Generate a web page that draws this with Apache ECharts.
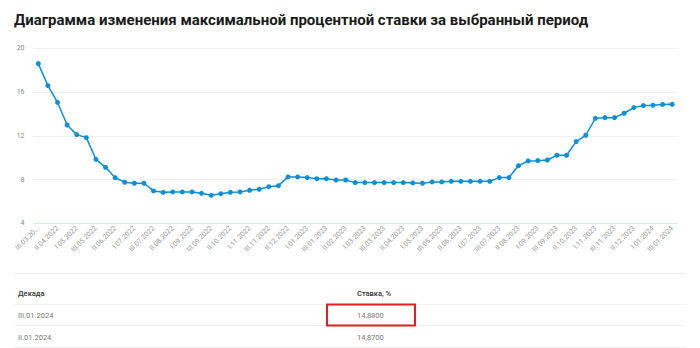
<!DOCTYPE html>
<html>
<head>
<meta charset="utf-8">
<script src="https://cdn.jsdelivr.net/npm/echarts@6/dist/echarts.min.js"></script>
<style>
html,body{margin:0;padding:0;background:#fff;}
#c{width:700px;height:348px;}
</style>
</head>
<body>
<div id="c"></div>
<script>
var titleText = 'Диаграмма изменения максимальной процентной ставки за выбранный период';
var categories = [
 'III.03.2022',
 'I.04.2022','II.04.2022','III.04.2022',
 'I.05.2022','II.05.2022','III.05.2022',
 'I.06.2022','II.06.2022','III.06.2022',
 'I.07.2022','II.07.2022','III.07.2022',
 'I.08.2022','II.08.2022','III.08.2022',
 'I.09.2022','II.09.2022','III.09.2022',
 'I.10.2022','II.10.2022','III.10.2022',
 'I.11.2022','II.11.2022','III.11.2022',
 'I.12.2022','II.12.2022','III.12.2022',
 'I.01.2023','II.01.2023','III.01.2023',
 'I.02.2023','II.02.2023','III.02.2023',
 'I.03.2023','II.03.2023','III.03.2023',
 'I.04.2023','II.04.2023','III.04.2023',
 'I.05.2023','II.05.2023','III.05.2023',
 'I.06.2023','II.06.2023','III.06.2023',
 'I.07.2023','II.07.2023','III.07.2023',
 'I.08.2023','II.08.2023','III.08.2023',
 'I.09.2023','II.09.2023','III.09.2023',
 'I.10.2023','II.10.2023','III.10.2023',
 'I.11.2023','II.11.2023','III.11.2023',
 'I.12.2023','II.12.2023','III.12.2023',
 'I.01.2024','II.01.2024','III.01.2024'
];
var rates = [
 18.60,
 16.59,15.06,12.99,
 12.11,11.83,9.85,
 9.12,8.17,7.75,
 7.66,7.66,6.96,
 6.83,6.87,6.87,
 6.87,6.74,6.56,
 6.71,6.83,6.87,
 7.02,7.11,7.35,
 7.44,8.24,8.24,
 8.18,8.08,8.08,
 7.96,7.96,7.72,
 7.72,7.72,7.72,
 7.72,7.72,7.69,
 7.66,7.78,7.78,
 7.84,7.84,7.84,
 7.84,7.84,8.18,
 8.18,9.27,9.70,
 9.73,9.79,10.22,
 10.22,11.47,12.05,
 13.60,13.66,13.66,
 14.06,14.58,14.76,
 14.79,14.87,14.88
];
var yTicks = [4, 8, 12, 16, 20];
var tableHeader = ['Декада', 'Ставка, %'];
var tableRows = [
 ['III.01.2024', '14,8800'],
 ['II.01.2024', '14,8700']
];

var chart = echarts.init(document.getElementById('c'), null, {renderer: 'svg'});
var FONT = 'Roboto, "Noto Sans", sans-serif';

var graphics = [
 {type:'text', left:14, top:12, style:{text:titleText, fill:'#1a1a1a', font:'bold 15px ' + FONT}},
 {type:'line', shape:{x1:14, y1:273.5, x2:686, y2:273.5}, style:{stroke:'#eeeeee', lineWidth:1}},
 {type:'text', left:18, top:289, style:{text:tableHeader[0], fill:'#333', font:'500 7.5px ' + FONT}},
 {type:'text', left:357, top:289, style:{text:tableHeader[1], fill:'#333', font:'500 7.5px ' + FONT}},
 {type:'line', shape:{x1:14, y1:304.5, x2:686, y2:304.5}, style:{stroke:'#f0f0f0', lineWidth:1}},
 {type:'line', shape:{x1:14, y1:325.5, x2:686, y2:325.5}, style:{stroke:'#f0f0f0', lineWidth:1}},
 {type:'line', shape:{x1:14, y1:347.5, x2:686, y2:347.5}, style:{stroke:'#f0f0f0', lineWidth:1}}
];
tableRows.forEach(function(r, i){
 var y = 311 + i*22;
 graphics.push({type:'text', left:18, top:y, style:{text:r[0], fill:'#777', font:'7.5px ' + FONT}});
 graphics.push({type:'text', left:357, top:y, style:{text:r[1], fill:'#777', font:'7.5px ' + FONT}});
});
graphics.push({type:'rect', shape:{x:327, y:304.5, width:88, height:21}, style:{fill:'none', stroke:'#e02020', lineWidth:2}});

chart.setOption({
 animation:false,
 grid:{left:33.5, right:23, top:48.3, bottom:124.7, containLabel:false},
 xAxis:{
  type:'category',
  data:categories,
  boundaryGap:true,
  axisLine:{lineStyle:{color:'#e0e6f1'}},
  axisTick:{show:false},
  axisLabel:{
   interval:1,
   rotate:45,
   fontSize:7,
   color:'#999',
   fontFamily:FONT,
   margin:4,
   formatter:function(v, idx){ return idx === 0 ? v.slice(0, 9) + '...' : v; }
  }
 },
 yAxis:{
  type:'value',
  min:yTicks[0], max:yTicks[yTicks.length-1], interval:4,
  axisLine:{show:false}, axisTick:{show:false},
  axisLabel:{fontSize:7, color:'#888', fontFamily:FONT, margin:9},
  splitLine:{lineStyle:{color:'#f0f0f0'}}
 },
 series:[{
  type:'line',
  data:rates,
  symbol:'circle',
  symbolSize:5,
  lineStyle:{color:'#0b8fd6', width:1.5},
  itemStyle:{color:'#0b8fd6'}
 }],
 graphic:graphics
});
</script>
</body>
</html>
